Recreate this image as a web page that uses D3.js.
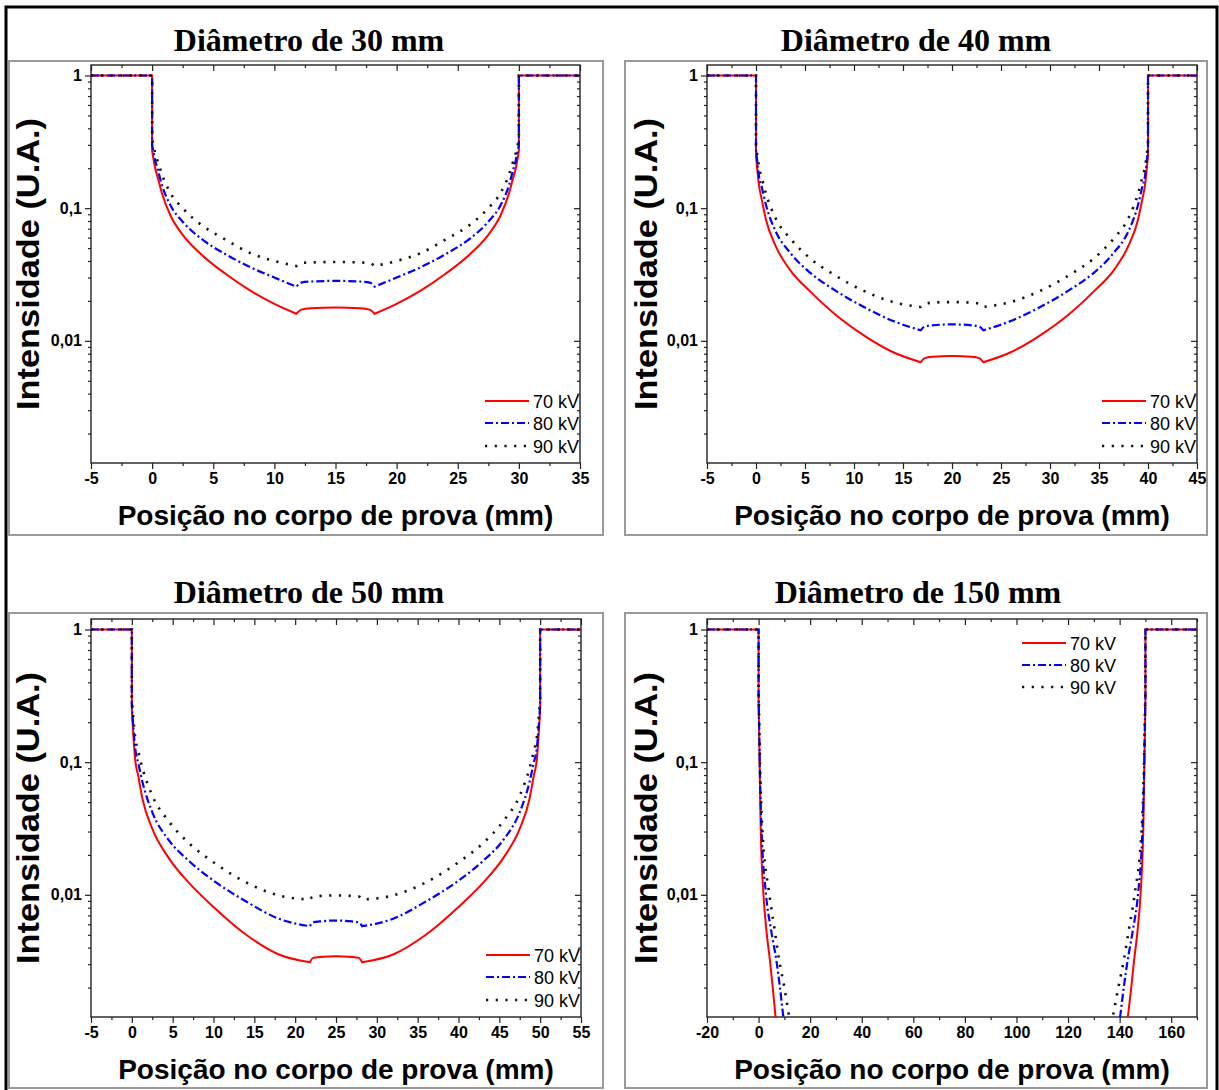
<!DOCTYPE html>
<html>
<head>
<meta charset="utf-8">
<script src="https://d3js.org/d3.v7.min.js"></script>
<style>
  body { margin: 0; background: #fff; }
  svg text { font-family: "Liberation Sans", Arial, sans-serif; }
</style>
</head>
<body>
<svg id="chart" width="1219" height="1090"></svg>
<script>
// ---------- data ----------
var titles = ["Diâmetro de 30 mm", "Diâmetro de 40 mm", "Diâmetro de 50 mm", "Diâmetro de 150 mm"];
var seriesNames = ["70 kV", "80 kV", "90 kV"];
var yTickValues = [1, 0.1, 0.01];
var yTickLabels = ["1", "0,1", "0,01"];

var xTicks30 = [-5, 0, 5, 10, 15, 20, 25, 30, 35];
var xTicks40 = [-5, 0, 5, 10, 15, 20, 25, 30, 35, 40, 45];
var xTicks50 = [-5, 0, 5, 10, 15, 20, 25, 30, 35, 40, 45, 50, 55];
var xTicks150 = [-20, 0, 20, 40, 60, 80, 100, 120, 140, 160];

// 30 mm
var pos30   = [-5, 0, 0, 0.25, 0.5, 0.8, 1.5, 2.5, 4, 6, 8, 10, 11.8, 12.2, 13, 15, 17, 17.8, 18.2, 20, 22, 24, 26, 27.5, 28.5, 29.2, 29.5, 29.75, 30, 30, 35];
var red30   = [1, 1, 0.27, 0.2, 0.165, 0.13, 0.088, 0.063, 0.045, 0.032, 0.024, 0.019, 0.0160, 0.0172, 0.0176, 0.0178, 0.0176, 0.0172, 0.0160, 0.019, 0.024, 0.032, 0.045, 0.063, 0.088, 0.13, 0.165, 0.2, 0.27, 1, 1];
var blue30  = [1, 1, 0.3, 0.23, 0.19, 0.15, 0.105, 0.079, 0.059, 0.045, 0.036, 0.030, 0.0256, 0.0275, 0.0280, 0.0283, 0.0280, 0.0275, 0.0256, 0.030, 0.036, 0.045, 0.059, 0.079, 0.105, 0.15, 0.19, 0.23, 0.3, 1, 1];
var black30 = [1, 1, 0.33, 0.26, 0.22, 0.18, 0.13, 0.1, 0.075, 0.058, 0.046, 0.040, 0.0366, 0.0385, 0.0390, 0.0393, 0.0390, 0.0385, 0.0366, 0.040, 0.046, 0.058, 0.075, 0.1, 0.13, 0.18, 0.22, 0.26, 0.33, 1, 1];
var knots30 = [0, 11.8, 18.2, 30];

// 40 mm
var pos40   = [-5, 0, 0, 0.3, 0.6, 1, 2, 3.5, 5.5, 8, 11, 14, 16.8, 17.2, 18, 20, 22, 22.8, 23.2, 26, 29, 32, 34.5, 36.5, 38, 39, 39.4, 39.7, 40, 40, 45];
var red40   = [1, 1, 0.25, 0.15, 0.115, 0.083, 0.052, 0.034, 0.0237, 0.016, 0.011, 0.0082, 0.0069, 0.0074, 0.0076, 0.0077, 0.0076, 0.0074, 0.0069, 0.0082, 0.011, 0.016, 0.0237, 0.034, 0.052, 0.083, 0.115, 0.15, 0.25, 1, 1];
var blue40  = [1, 1, 0.28, 0.175, 0.143, 0.107, 0.067, 0.046, 0.0327, 0.0242, 0.018, 0.0141, 0.0120, 0.0128, 0.0131, 0.0133, 0.0131, 0.0128, 0.0120, 0.0141, 0.018, 0.0242, 0.0327, 0.046, 0.067, 0.107, 0.143, 0.175, 0.28, 1, 1];
var black40 = [1, 1, 0.3, 0.206, 0.168, 0.13, 0.084, 0.059, 0.042, 0.0314, 0.0238, 0.0196, 0.0180, 0.0190, 0.0194, 0.0196, 0.0194, 0.0190, 0.0180, 0.0196, 0.0238, 0.0314, 0.042, 0.059, 0.084, 0.13, 0.168, 0.206, 0.3, 1, 1];
var knots40 = [0, 16.8, 23.2, 40];

// 50 mm
var pos50   = [-5, 0, 0, 0.4, 0.8, 1.3, 2.5, 4.5, 7, 10, 14, 18, 21.8, 22.2, 23, 25, 27, 27.8, 28.2, 32, 36, 40, 43, 45.5, 47.5, 48.7, 49.2, 49.6, 50, 50, 55];
var red50   = [1, 1, 0.25, 0.106, 0.078, 0.053, 0.0315, 0.019, 0.0123, 0.0081, 0.0050, 0.00355, 0.0031, 0.00335, 0.0034, 0.00345, 0.0034, 0.00335, 0.0031, 0.00355, 0.0050, 0.0081, 0.0123, 0.019, 0.0315, 0.053, 0.078, 0.106, 0.25, 1, 1];
var blue50  = [1, 1, 0.27, 0.129, 0.098, 0.071, 0.042, 0.026, 0.018, 0.0128, 0.0089, 0.0066, 0.0058, 0.0062, 0.0063, 0.0064, 0.0063, 0.0062, 0.0058, 0.0066, 0.0089, 0.0128, 0.018, 0.026, 0.042, 0.071, 0.098, 0.129, 0.27, 1, 1];
var black50 = [1, 1, 0.3, 0.156, 0.119, 0.09, 0.056, 0.036, 0.0245, 0.0176, 0.0124, 0.0099, 0.0092, 0.0097, 0.0098, 0.0099, 0.0098, 0.0097, 0.0092, 0.0099, 0.0124, 0.0176, 0.0245, 0.036, 0.056, 0.09, 0.119, 0.156, 0.3, 1, 1];
var knots50 = [0, 21.8, 28.2, 50];

// 150 mm (each series has its own positions, gap in the middle)
var red150x   = [-20, 0, 0, 0.15, 0.4, 0.8, 1.9, 3, 4.4, 5.5, 6.5, 7.3, null, 142.4, 143.3, 144.5, 145.6, 147, 148.1, 149.2, 149.6, 149.85, 150, 150, 170];
var red150y   = [1, 1, 0.3, 0.2, 0.1, 0.033, 0.01, 0.0055, 0.0032, 0.002, 0.00125, 0.0009, null, 0.0009, 0.00125, 0.002, 0.0032, 0.0055, 0.01, 0.033, 0.1, 0.2, 0.3, 1, 1];
var blue150x  = [-20, 0, 0, 0.15, 0.4, 1.1, 2.9, 4.8, 6.9, 8.3, 9.5, 10.5, null, 139.3, 140.3, 141.6, 143.1, 145.2, 147.1, 148.9, 149.6, 149.85, 150, 150, 170];
var blue150y  = [1, 1, 0.32, 0.22, 0.11, 0.033, 0.01, 0.0055, 0.0032, 0.002, 0.00125, 0.0009, null, 0.0009, 0.00125, 0.002, 0.0032, 0.0055, 0.01, 0.033, 0.11, 0.22, 0.32, 1, 1];
var black150x = [-20, 0, 0, 0.15, 0.45, 1.4, 4.2, 6.2, 8, 10, 11.7, 12.8, null, 136, 137.5, 139.5, 141.6, 143.6, 145.8, 148.6, 149.55, 149.85, 150, 150, 170];
var black150y = [1, 1, 0.35, 0.25, 0.12, 0.033, 0.01, 0.0055, 0.0032, 0.002, 0.00125, 0.0009, null, 0.0009, 0.00125, 0.002, 0.0032, 0.0055, 0.01, 0.033, 0.12, 0.25, 0.35, 1, 1];
var knots150 = [0, 150];

// ---------- layout ----------
var yDomain = [0.0012, 1.2];
var styles = [
  {color: "#ff0000", dash: null, width: 2},
  {color: "#0000ff", dash: "8,3,2,3", width: 2.2},
  {color: "#111111", dash: "2.2,7.5", width: 2.6}
];

var panels = [
  {title: titles[0], xDomain: [-5, 35], xTicks: xTicks30, minorStep: 2.5, knots: knots30,
   series: [[pos30, red30], [pos30, blue30], [pos30, black30]],
   box: [9, 61, 603, 535], plot: [91, 580, 65, 463], titleX: 309, titleY: 51, yTitleX: 28, legend: "bottom"},
  {title: titles[1], xDomain: [-5, 45], xTicks: xTicks40, minorStep: 2.5, knots: knots40,
   series: [[pos40, red40], [pos40, blue40], [pos40, black40]],
   box: [625, 61, 1207, 535], plot: [707, 1197, 65, 463], titleX: 916, titleY: 51, yTitleX: 646, legend: "bottom"},
  {title: titles[2], xDomain: [-5, 55], xTicks: xTicks50, minorStep: 2.5, knots: knots50,
   series: [[pos50, red50], [pos50, blue50], [pos50, black50]],
   box: [9, 613, 603, 1088], plot: [91, 581, 619, 1017], titleX: 309, titleY: 603, yTitleX: 28, legend: "bottom"},
  {title: titles[3], xDomain: [-20, 170], xTicks: xTicks150, minorStep: 10, knots: knots150,
   series: [[red150x, red150y], [blue150x, blue150y], [black150x, black150y]],
   box: [625, 613, 1207, 1088], plot: [707, 1197, 619, 1017], titleX: 918, titleY: 603, yTitleX: 646, legend: "top"}
];

var svg = d3.select("#chart");

// outer frame
svg.append("path")
  .attr("d", "M6,1090 L6,7 L1217,7 L1217,1090")
  .attr("fill", "none").attr("stroke", "#000").attr("stroke-width", 3);

// split a series at corner positions (steps, notches) and nulls, draw each piece smooth
function buildPath(xs, ys, knots, x, y) {
  var segs = [], cur = [], cont = [];
  var startCont = false;
  for (var i = 0; i < xs.length; i++) {
    if (xs[i] === null) {
      if (cur.length > 1) { segs.push(cur); cont.push(startCont); }
      cur = []; startCont = false;
      continue;
    }
    cur.push([xs[i], ys[i]]);
    if (knots.indexOf(xs[i]) >= 0 && cur.length > 1) {
      segs.push(cur); cont.push(startCont);
      cur = [[xs[i], ys[i]]]; startCont = true;
    }
  }
  if (cur.length > 1) { segs.push(cur); cont.push(startCont); }
  var line = d3.line().x(function(d){ return x(d[0]); }).y(function(d){ return y(d[1]); })
    .curve(d3.curveMonotoneX);
  return segs.map(function(s, k){
    var d = line(s);
    return cont[k] ? "L" + d.slice(1) : d;
  }).join("");
}

panels.forEach(function(p, idx) {
  var g = svg.append("g");
  var L = p.plot[0], R = p.plot[1], T = p.plot[2], B = p.plot[3];

  g.append("rect")
    .attr("x", p.box[0]).attr("y", p.box[1])
    .attr("width", p.box[2] - p.box[0]).attr("height", p.box[3] - p.box[1])
    .attr("fill", "none").attr("stroke", "#9a9a9a").attr("stroke-width", 2);

  g.append("text")
    .attr("x", p.titleX).attr("y", p.titleY)
    .attr("text-anchor", "middle")
    .style("font-family", "'Liberation Serif', 'Times New Roman', serif")
    .style("font-weight", "bold").style("font-size", "32px")
    .text(p.title);

  var x = d3.scaleLinear().domain(p.xDomain).range([L, R]);
  var y = d3.scaleLog().domain(yDomain).range([B, T]);

  var minors = d3.range(p.xDomain[0], p.xDomain[1] + 0.001, p.minorStep)
    .filter(function(v){ return p.xTicks.indexOf(v) < 0; });
  var yMinors = [];
  [0.001, 0.01, 0.1].forEach(function(dec){
    for (var k = 2; k <= 9; k++) {
      var v = dec * k;
      if (v >= yDomain[0] && v <= yDomain[1]) yMinors.push(v);
    }
  });

  function styleAxis(sel) {
    sel.select(".domain").remove();
    sel.selectAll("line").attr("stroke", "#222").attr("stroke-width", 1.2);
    sel.selectAll("text").style("font-size", "16px").style("font-weight", "bold").attr("fill", "#000");
  }

  // bottom
  g.append("g").attr("transform", "translate(0," + B + ")")
    .call(d3.axisBottom(x).tickValues(p.xTicks).tickSize(6).tickPadding(4).tickFormat(function(d){ return d; }))
    .call(styleAxis);
  g.append("g").attr("transform", "translate(0," + B + ")")
    .call(d3.axisBottom(x).tickValues(minors).tickSize(3).tickFormat(""))
    .call(styleAxis);
  // top (inward)
  g.append("g").attr("transform", "translate(0," + T + ")")
    .call(d3.axisTop(x).tickValues(p.xTicks).tickSize(-6).tickFormat(""))
    .call(styleAxis);
  g.append("g").attr("transform", "translate(0," + T + ")")
    .call(d3.axisTop(x).tickValues(minors).tickSize(-3).tickFormat(""))
    .call(styleAxis);
  // left
  g.append("g").attr("transform", "translate(" + L + ",0)")
    .call(d3.axisLeft(y).tickValues(yTickValues).tickSize(6).tickPadding(3)
      .tickFormat(function(d, i){ return yTickLabels[i]; }))
    .call(styleAxis);
  g.append("g").attr("transform", "translate(" + L + ",0)")
    .call(d3.axisLeft(y).tickValues(yMinors).tickSize(3).tickFormat(""))
    .call(styleAxis);
  // right (inward)
  g.append("g").attr("transform", "translate(" + R + ",0)")
    .call(d3.axisRight(y).tickValues(yTickValues).tickSize(-6).tickFormat(""))
    .call(styleAxis);
  g.append("g").attr("transform", "translate(" + R + ",0)")
    .call(d3.axisRight(y).tickValues(yMinors).tickSize(-3).tickFormat(""))
    .call(styleAxis);

  // frame
  g.append("rect").attr("x", L).attr("y", T).attr("width", R - L).attr("height", B - T)
    .attr("fill", "none").attr("stroke", "#222").attr("stroke-width", 1.4);

  // clip
  g.append("clipPath").attr("id", "clip" + idx)
    .append("rect").attr("x", L).attr("y", T).attr("width", R - L).attr("height", B - T);

  var curves = g.append("g").attr("clip-path", "url(#clip" + idx + ")");
  p.series.forEach(function(s, k) {
    var st = styles[k];
    curves.append("path")
      .attr("d", buildPath(s[0], s[1], p.knots, x, y))
      .attr("fill", "none")
      .attr("stroke", st.color)
      .attr("stroke-width", st.width)
      .attr("stroke-dasharray", st.dash);
  });

  // axis titles
  g.append("text")
    .attr("x", (L + R) / 2).attr("y", B + 62)
    .attr("text-anchor", "middle")
    .style("font-size", "28px").style("font-weight", "bold")
    .text("Posição no corpo de prova (mm)");
  g.append("text")
    .attr("transform", "translate(" + (p.yTitleX + 11) + "," + ((T + B) / 2) + ") rotate(-90)")
    .attr("text-anchor", "middle")
    .attr("textLength", 292).attr("lengthAdjust", "spacingAndGlyphs")
    .style("font-size", "32px").style("font-weight", "bold")
    .text("Intensidade (U.A.)");

  // legend
  var textEnd = p.legend === "bottom" ? R - 1 : R - 81;
  var rows = p.legend === "bottom" ? [B - 62, B - 40, B - 17] : [T + 24, T + 46, T + 68];
  seriesNames.forEach(function(name, k) {
    var st = styles[k];
    g.append("text")
      .attr("x", textEnd).attr("y", rows[k] + 6.5)
      .attr("text-anchor", "end")
      .style("font-size", "18px")
      .text(name);
    g.append("line")
      .attr("x1", textEnd - 94).attr("x2", textEnd - 50)
      .attr("y1", rows[k]).attr("y2", rows[k])
      .attr("stroke", st.color).attr("stroke-width", st.width)
      .attr("stroke-dasharray", st.dash);
  });
});
</script>
</body>
</html>
